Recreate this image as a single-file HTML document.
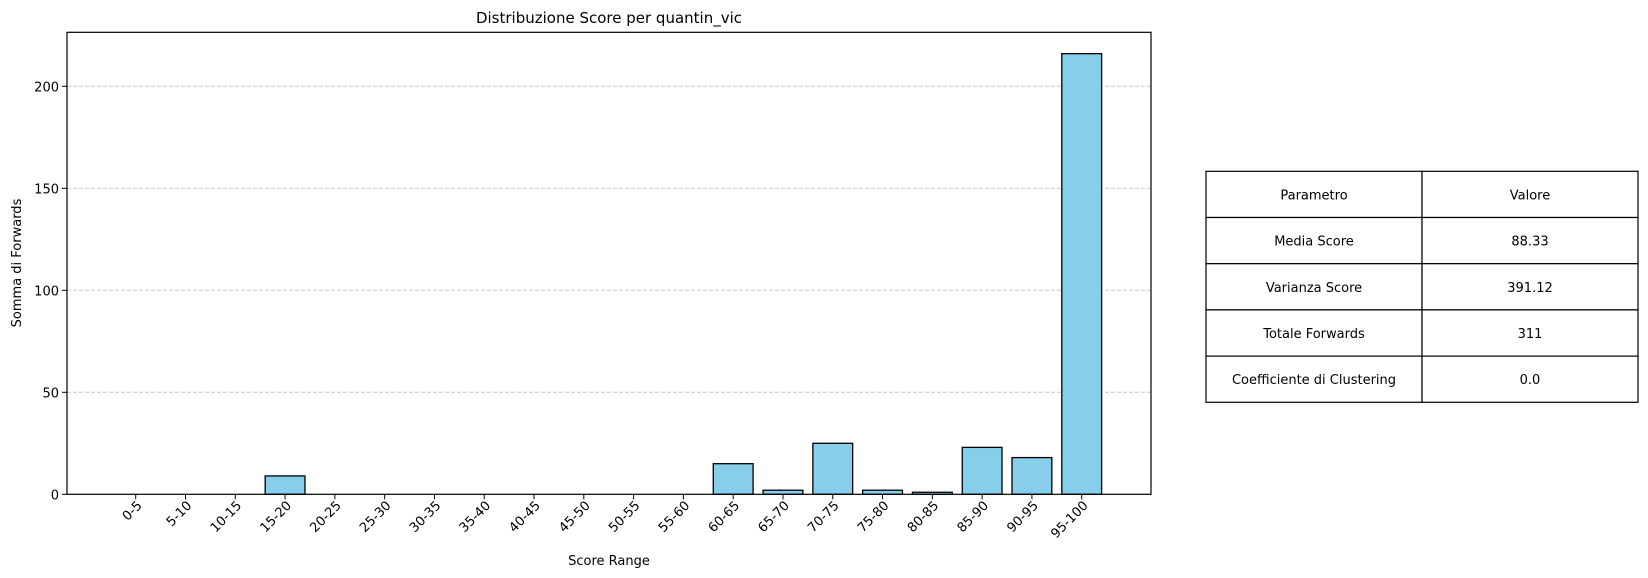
<!DOCTYPE html>
<html><head><meta charset="utf-8"><style>
body{margin:0;background:#fff;width:1648px;height:578px;overflow:hidden}
svg{display:block;font-family:"DejaVu Sans","Liberation Sans",sans-serif}
</style></head><body>
<svg id="chart" width="1648" height="578">
<rect width="1648" height="578" fill="#fff"/>
<g id="grid"></g><g id="bars"></g><g id="axes"></g>
<text x="609" y="23" font-size="15" text-anchor="middle">Distribuzione Score per quantin_vic</text>
<text x="609" y="565" font-size="13" text-anchor="middle">Score Range</text>
<text transform="translate(21,263) rotate(-90)" font-size="13" text-anchor="middle">Somma di Forwards</text>
<g id="table"></g>
</svg>
<script>
const categories=["0-5","5-10","10-15","15-20","20-25","25-30","30-35","35-40","40-45","45-50","50-55","55-60","60-65","65-70","70-75","75-80","80-85","85-90","90-95","95-100"];
const values=[0,0,0,9,0,0,0,0,0,0,0,0,15,2,25,2,1,23,18,216];
const yTicks=[0,50,100,150,200];
const tableRows=[["Parametro","Valore"],["Media Score","88.33"],["Varianza Score","391.12"],["Totale Forwards","311"],["Coefficiente di Clustering","0.0"]];

const NS="http://www.w3.org/2000/svg";
const L=67,R=1151,T=32.3,B=494.3;
const xScale=i=>135.7+i*49.79;
const yScale=v=>B-v*2.04;
const bw=39.8;
function mk(tag,attrs,parent,text){const e=document.createElementNS(NS,tag);for(const k in attrs)e.setAttribute(k,attrs[k]);if(text!==undefined)e.textContent=text;parent.appendChild(e);return e;}
const grid=document.getElementById('grid'),bars=document.getElementById('bars'),axes=document.getElementById('axes');
yTicks.forEach(v=>{
  const y=yScale(v);
  if(v>0){const g=mk('line',{x1:L,x2:R,y1:y,y2:y,stroke:'#c8c8c8','stroke-dasharray':'4,2','stroke-width':1},grid);
  
  }
  const t=mk('line',{x1:L-5,x2:L,y1:y,y2:y,stroke:'#000'},axes);
  
  
  const l=mk('text',{x:L-8,y:y+5,'font-size':13,'text-anchor':'end'},axes,String(v));
  
  
});
categories.forEach((c,i)=>{
  const x=xScale(i),y=yScale(values[i]);
  const r=mk('rect',{x:x-bw/2,y:y,width:bw,height:Math.max(B-y,0.01),fill:'#87ceeb',stroke:'#000','stroke-width':values[i]>0?1.3:0.3},bars);
  
  
  const t=mk('line',{x1:x,x2:x,y1:B,y2:B+5,stroke:'#000'},axes);
  
  
  const l=mk('text',{transform:`translate(${x+7},${B+12}) rotate(-45)`,'font-size':13,'text-anchor':'end'},axes,c);
  
  
});
const frame=mk('rect',{x:L,y:T,width:R-L,height:B-T,fill:'none',stroke:'#000','stroke-width':1.2},axes);


const tb=document.getElementById('table');
const tx=[1206,1422,1638],ty0=171.3,rh=46.2;
tableRows.forEach((row,ri)=>{
  row.forEach((cell,ci)=>{
    const y=ty0+ri*rh;
    const r=mk('rect',{x:tx[ci],y:y,width:tx[ci+1]-tx[ci],height:rh,fill:'#fff',stroke:'#000','stroke-width':1.2},tb);
    
    
    const t=mk('text',{x:(tx[ci]+tx[ci+1])/2,y:y+rh/2+5,'font-size':13,'text-anchor':'middle'},tb,cell);
    
    
  });
});
</script>
</body></html>
